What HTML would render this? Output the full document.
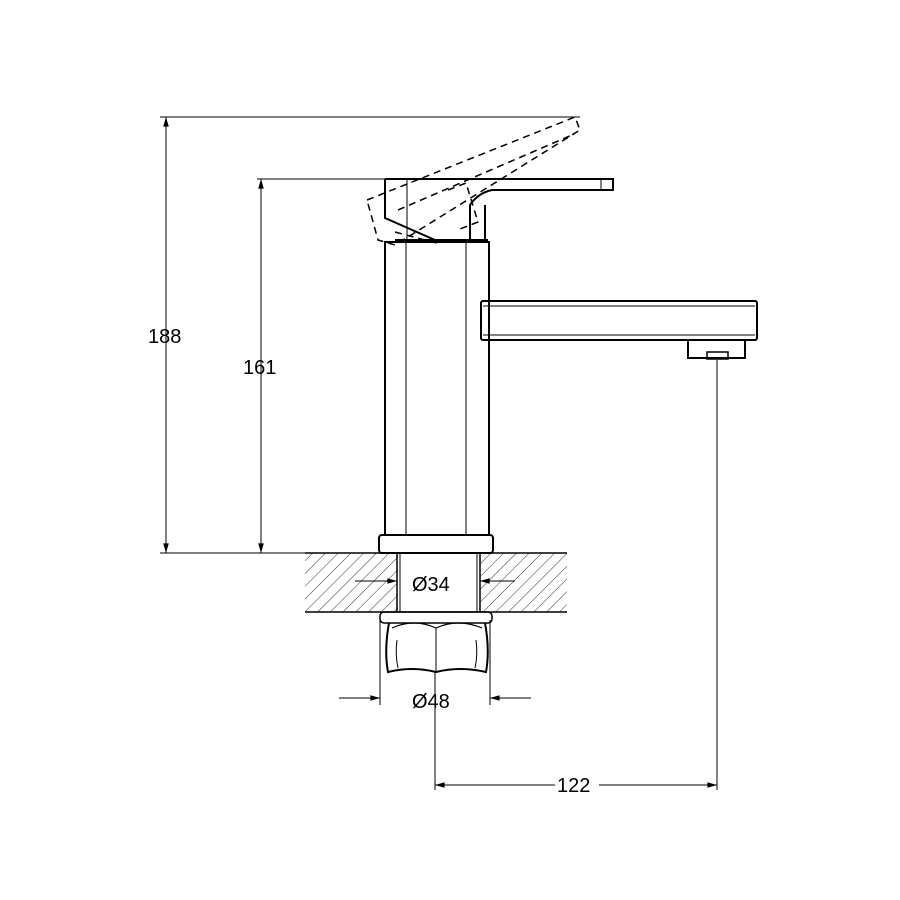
<!DOCTYPE html>
<html><head><meta charset="utf-8"><style>
html,body{margin:0;padding:0;background:#fff;}
svg{display:block;}
text{font-family:"Liberation Sans",sans-serif;fill:#000;}
</style></head><body>
<svg width="900" height="900" viewBox="0 0 900 900" xmlns="http://www.w3.org/2000/svg">
<defs>
<pattern id="h" patternUnits="userSpaceOnUse" width="9" height="9" patternTransform="rotate(45)">
<line x1="0" y1="0" x2="0" y2="9" stroke="#000" stroke-width="0.8"/>
</pattern>
<marker id="a" viewBox="0 0 12 10" refX="12" refY="5" markerWidth="12" markerHeight="8" orient="auto-start-reverse" markerUnits="userSpaceOnUse">
<path d="M0,1.5 L12,5 L0,8.5 z" fill="#000"/>
</marker>
</defs>
<g stroke="#000" fill="none">
<line x1="160" y1="117" x2="580" y2="117" stroke-width="1"/>
<line x1="257" y1="179" x2="385" y2="179" stroke-width="1"/>
<line x1="160" y1="553" x2="305" y2="553" stroke-width="1"/>
<line x1="166" y1="117" x2="166" y2="553" stroke-width="1" marker-start="url(#a)" marker-end="url(#a)"/>
<line x1="261" y1="179" x2="261" y2="553" stroke-width="1" marker-start="url(#a)" marker-end="url(#a)"/>

<rect x="305" y="553" width="93" height="59" fill="url(#h)" stroke="none"/>
<rect x="480" y="553" width="87" height="59" fill="url(#h)" stroke="none"/>
<line x1="305" y1="553" x2="567" y2="553" stroke-width="1.5"/>
<line x1="305" y1="612" x2="567" y2="612" stroke-width="1.5"/>
<line x1="397" y1="553" x2="397" y2="612" stroke-width="1.5"/>
<line x1="400" y1="553" x2="400" y2="612" stroke-width="1"/>
<line x1="480" y1="553" x2="480" y2="612" stroke-width="1.5"/>
<line x1="477" y1="553" x2="477" y2="612" stroke-width="1"/>

<rect x="385" y="242" width="104" height="293" stroke-width="2"/>
<line x1="406" y1="242" x2="406" y2="535" stroke-width="1"/>
<line x1="466" y1="242" x2="466" y2="535" stroke-width="1"/>
<rect x="379" y="535" width="114" height="18" rx="3" stroke-width="2"/>

<rect x="481" y="301" width="276" height="39" rx="2" stroke-width="2"/>
<line x1="483" y1="306" x2="755" y2="306" stroke-width="1"/>
<line x1="483" y1="335" x2="755" y2="335" stroke-width="1"/>
<path d="M688,340 L688,358 L745,358 L745,340" stroke-width="2"/>
<rect x="707" y="352" width="21" height="7" stroke-width="1.5"/>

<path d="M385,179 L613,179 L613,190 L492,190 Q478,193 470,205 L470,240 L485,240 L485,205" stroke-width="2"/>
<path d="M385,179 L385,218 L435,240 L485,240" stroke-width="2"/>
<line x1="407" y1="179" x2="407" y2="240" stroke-width="1"/>
<line x1="601" y1="180" x2="601" y2="190" stroke-width="1"/>
<line x1="395" y1="240" x2="488" y2="240" stroke-width="2"/>
<g stroke-dasharray="7,5" stroke-width="1.5">
<path d="M367,200 L575,117 L580,130 L395,245 L378,240 Z"/>
<line x1="398" y1="210" x2="572" y2="135"/>
<path d="M448,190 L466,183 L478,222 L460,229"/>
<path d="M395,232 L440,244"/>
</g>

<rect x="380" y="612" width="112" height="11" rx="4" stroke-width="1.5"/>
<path d="M389,623 Q384,650 388,672 Q412,666 436,672 Q460,666 486,672 Q490,650 485,623" stroke-width="2"/>
<path d="M392,628 Q414,618 436,628 Q458,618 482,628" stroke-width="1.2"/>
<line x1="436" y1="628" x2="436" y2="672" stroke-width="1"/>
<path d="M397,640 Q395,655 398,668 M476,640 Q478,655 475,668" stroke-width="1"/>

<line x1="355" y1="581" x2="397" y2="581" stroke-width="1" marker-end="url(#a)"/>
<line x1="515" y1="581" x2="480" y2="581" stroke-width="1" marker-end="url(#a)"/>
<line x1="380" y1="620" x2="380" y2="705" stroke-width="1"/>
<line x1="490" y1="620" x2="490" y2="705" stroke-width="1"/>
<line x1="339" y1="698" x2="380" y2="698" stroke-width="1" marker-end="url(#a)"/>
<line x1="531" y1="698" x2="490" y2="698" stroke-width="1" marker-end="url(#a)"/>
<line x1="435" y1="672" x2="435" y2="790" stroke-width="1"/>
<line x1="717" y1="360" x2="717" y2="790" stroke-width="1"/>
<line x1="435" y1="785" x2="717" y2="785" stroke-width="1" marker-start="url(#a)" marker-end="url(#a)"/>
</g>
<rect x="555" y="773" width="44" height="22" fill="#fff"/>
<text x="148" y="343" font-size="20">188</text>
<text x="243" y="374" font-size="20">161</text>
<text x="412" y="591" font-size="20">Ø34</text>
<text x="412" y="708" font-size="20">Ø48</text>
<text x="557" y="792" font-size="20">122</text>
</svg>
</body></html>
